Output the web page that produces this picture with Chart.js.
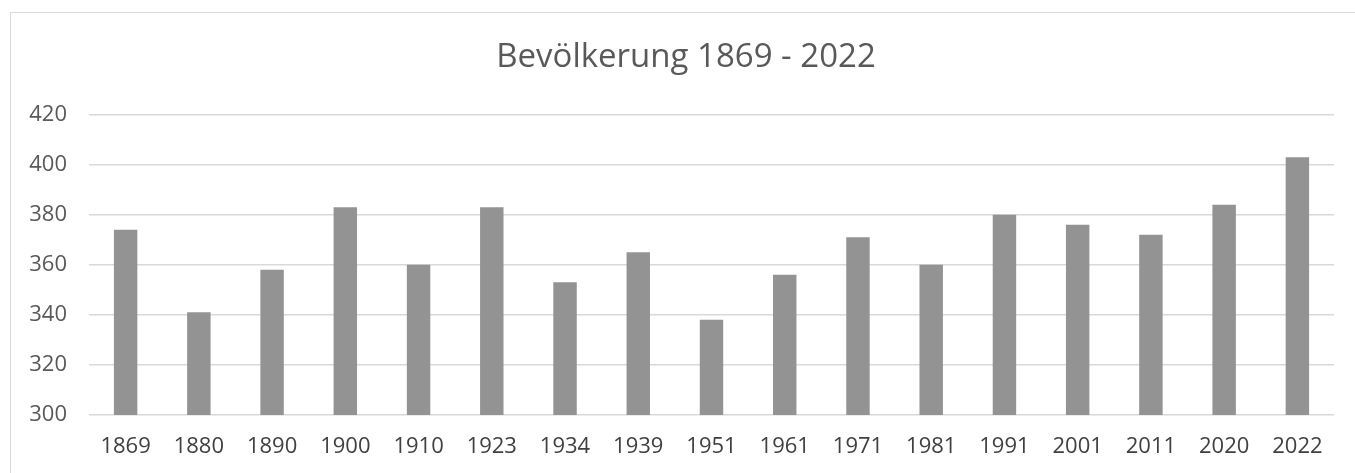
<!DOCTYPE html>
<html>
<head>
<meta charset="utf-8">
<script src="https://cdn.jsdelivr.net/npm/chart.js@4"></script>
<style>
  body { margin: 0; background: #fff; overflow: hidden; }
  #frame { position: absolute; left: 10px; top: 12px; width: 1400px; height: 520px; border: 1.5px solid #d9d9d9; }
  #wrap { position: absolute; left: 0; top: 0; width: 1355px; height: 473px; }
</style>
</head>
<body>
<div id="frame"></div>
<div id="wrap"><canvas id="myChart"></canvas></div>
<script>
const years = ['1869', '1880', '1890', '1900', '1910', '1923', '1934', '1939', '1951',
               '1961', '1971', '1981', '1991', '2001', '2011', '2020', '2022'];
const population = [374, 341, 358, 383, 360, 383, 353, 365, 338,
                    356, 371, 360, 380, 376, 372, 384, 403];
const yTicks = [300, 320, 340, 360, 380, 400, 420];

// the title sits a bit right of the canvas centre, like in the excel chart
const titleShift = {
    id: 'titleShift',
    afterLayout: function(chart) {
        if (chart.titleBlock) chart.titleBlock.left += 38;
    }
};

const ctx = document.getElementById('myChart').getContext('2d');
new Chart(ctx, {
    type: 'bar',
    data: {
        labels: years,
        datasets: [{
            label: 'Bevölkerung',
            data: population,
            backgroundColor: '#939393',
            borderWidth: 0,
            barPercentage: 0.64,
            categoryPercentage: 0.5
        }]
    },
    options: {
        responsive: true,
        maintainAspectRatio: false,
        animation: false,
        layout: { padding: { left: 0, right: 21, top: 0, bottom: 0 } },
        scales: {
            y: {
                min: yTicks[0],
                max: yTicks[yTicks.length - 1],
                afterBuildTicks: function(scale) {
                    scale.ticks = yTicks.map(v => ({ value: v }));
                },
                afterFit: function(scale) { scale.width = 89; },
                border: { display: false },
                grid: { color: '#d9d9d9', lineWidth: 1.5, drawTicks: false },
                ticks: {
                    padding: 22,
                    color: '#595959',
                    font: { family: 'Open Sans', size: 22 }
                }
            },
            x: {
                afterFit: function(scale) { scale.height = 58; },
                border: { display: false },
                grid: { display: false, drawTicks: false },
                ticks: {
                    padding: 19,
                    color: '#404040',
                    maxRotation: 0,
                    font: { family: 'Open Sans', size: 22 }
                }
            }
        },
        plugins: {
            legend: { display: false },
            tooltip: { enabled: false },
            title: {
                display: true,
                text: 'Bevölkerung 1869 - 2022',
                color: '#595959',
                font: { family: 'Open Sans', size: 33, weight: 'normal' },
                padding: { top: 38, bottom: 37 }
            }
        }
    },
    plugins: [titleShift]
});
</script>
</body>
</html>
